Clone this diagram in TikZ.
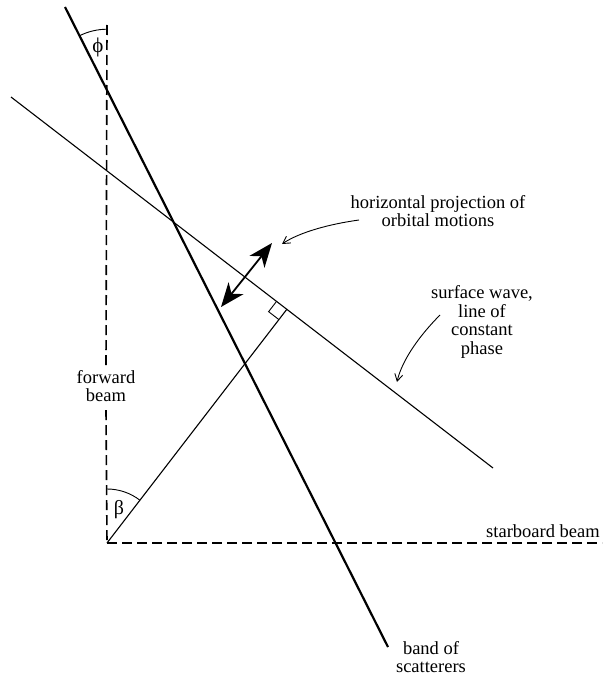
\documentclass[tikz,border=0pt]{standalone}
\usepackage{fontspec}
\setmainfont{Liberation Serif}
\usetikzlibrary{arrows.meta,calc}
\tikzset{
  dashline/.style={line width=1.6pt, dash pattern=on 10pt off 5pt},
  bandline/.style={line width=2.2pt},
  thinline/.style={line width=1.1pt},
  lbl/.style={inner sep=0pt, align=center, font=\fontsize{18.5}{18.5}\selectfont},
  callout/.style={line width=0.9pt, -{Straight Barb[length=7pt,width=8pt]}},
  bigarrow/.style={line width=1.8pt, {Stealth[length=24pt,width=19pt,inset=7pt]}-{Stealth[length=24pt,width=19pt,inset=7pt]}}
}
\begin{document}
\begin{tikzpicture}[x=1pt,y=1pt]
\useasboundingbox (0,0) rectangle (613,-677);
% key points
\coordinate (O) at (107,-543);
\coordinate (Vtop) at (107,-25);
\coordinate (Sright) at (602,-543);
\coordinate (Btop) at (65,-7);
\coordinate (Bbot) at (388,-647);
\coordinate (W1) at (11,-97);
\coordinate (W2) at (493,-468);
\coordinate (F) at ($(W1)!(O)!(W2)$);
\coordinate (I) at (intersection of Btop--Bbot and Vtop--O);
% labels
\node[lbl] (fb) at (106,-386) {forward\\beam};
\node[lbl] (sb) at (543,-531) {starboard beam};
\node[lbl] (bs) at (431,-657) {band of\\scatterers};
\node[lbl] (hp) at (438,-211) {horizontal projection of\\orbital motions};
\node[lbl] (sw) at (482,-322) {surface wave,\\line of\\constant\\phase};
\node[lbl, font=\fontsize{21}{21}\selectfont] (phi) at (98,-47) {ϕ};
\node[lbl, font=\fontsize{20}{20}\selectfont] (beta) at (119,-510) {β};
% beams
\draw[dashline] (Vtop) -- ($(fb.north)+(0,4)$);
\draw[dashline] ($(fb.south)+(0,-8)$) -- (O);
\draw[dashline] (O) -- (Sright);
% band of scatterers
\draw[bandline] (Btop) -- (Bbot);
% surface wave line
\draw[thinline] (W1) -- (W2);
% perpendicular
\draw[thinline] (O) -- (F);
% right angle marker
\coordinate (RA) at ($(F)!13pt!(W1)$);
\coordinate (RB) at ($(F)!13pt!(O)$);
\draw[line width=0.9pt] (RA) -- ($(RA)+(RB)-(F)$) -- (RB);
% angle arcs
\draw[line width=0.9pt] ($(I)+(90:61)$) arc[start angle=90, end angle=116.8, radius=61];
\draw[line width=0.9pt] ($(O)+(90:54)$) arc[start angle=90, end angle=52.4, radius=54];
% orbital motion double arrow
\coordinate (A1) at (221,-307);
\coordinate (A2) at (272,-243);
\draw[bigarrow] (A1) -- (A2);
% callouts
\coordinate (c1) at (282,-244);
\draw[callout] (359,-220) .. controls (330,-224) and (300,-232) .. (c1);
\coordinate (c2) at (397,-382);
\draw[callout] (440,-315) .. controls (420,-335) and (402,-360) .. (c2);
\end{tikzpicture}
\end{document}
